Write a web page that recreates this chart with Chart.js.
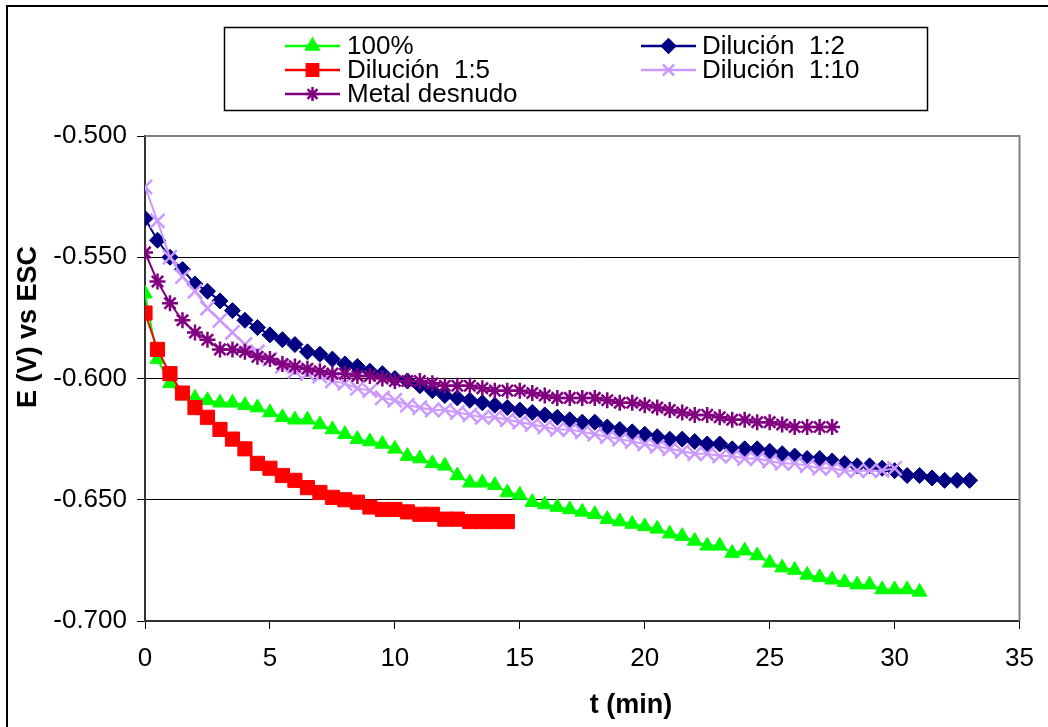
<!DOCTYPE html>
<html>
<head>
<meta charset="utf-8">
<script src="https://cdn.jsdelivr.net/npm/chart.js@4/dist/chart.umd.min.js"></script>
<style>
  html, body { margin: 0; padding: 0; background: #fff; }
  #wrap { width: 1048px; height: 727px; }
</style>
</head>
<body>
<div id="wrap"><canvas id="potChart" width="1048" height="727"></canvas></div>
<script>
// time axis (min), one reading every half minute
var times = [0,0.5,1,1.5,2,2.5,3,3.5,4,4.5,5,5.5,6,6.5,7,7.5,8,8.5,9,9.5,
  10,10.5,11,11.5,12,12.5,13,13.5,14,14.5,15,15.5,16,16.5,17,17.5,18,18.5,19,19.5,
  20,20.5,21,21.5,22,22.5,23,23.5,24,24.5,25,25.5,26,26.5,27,27.5,28,28.5,29,29.5,
  30,30.5,31,31.5,32,32.5,33];

var labels = ["100%", "Dilución  1:2", "Dilución  1:5", "Dilución  1:10", "Metal desnudo"];

var pure100 = [-0.565,-0.592,-0.602,-0.607,-0.608,-0.609,-0.610,-0.610,-0.611,-0.612,
  -0.614,-0.616,-0.617,-0.617,-0.619,-0.621,-0.623,-0.625,-0.626,-0.627,
  -0.629,-0.632,-0.633,-0.635,-0.636,-0.640,-0.643,-0.643,-0.644,-0.647,
  -0.648,-0.651,-0.652,-0.653,-0.654,-0.655,-0.656,-0.658,-0.659,-0.660,
  -0.661,-0.662,-0.664,-0.665,-0.667,-0.669,-0.669,-0.672,-0.671,-0.673,
  -0.676,-0.678,-0.679,-0.681,-0.682,-0.683,-0.684,-0.685,-0.685,-0.687,
  -0.687,-0.687,-0.688];

var dil12 = [-0.534,-0.543,-0.550,-0.555,-0.561,-0.564,-0.568,-0.572,-0.576,-0.579,
  -0.582,-0.584,-0.586,-0.589,-0.590,-0.592,-0.594,-0.595,-0.597,-0.598,
  -0.600,-0.601,-0.603,-0.605,-0.607,-0.608,-0.609,-0.610,-0.611,-0.612,
  -0.613,-0.614,-0.615,-0.616,-0.617,-0.618,-0.618,-0.620,-0.621,-0.622,
  -0.623,-0.624,-0.625,-0.625,-0.626,-0.627,-0.627,-0.629,-0.629,-0.629,
  -0.630,-0.631,-0.632,-0.633,-0.633,-0.634,-0.635,-0.636,-0.636,-0.637,
  -0.638,-0.640,-0.640,-0.641,-0.642,-0.642,-0.642];

var dil15 = [-0.573,-0.588,-0.598,-0.606,-0.612,-0.616,-0.621,-0.625,-0.629,-0.635,
  -0.637,-0.640,-0.642,-0.645,-0.647,-0.649,-0.650,-0.651,-0.653,-0.654,
  -0.654,-0.655,-0.656,-0.656,-0.658,-0.658,-0.659,-0.659,-0.659,-0.659];

var dil110 = [-0.521,-0.535,-0.550,-0.558,-0.564,-0.571,-0.576,-0.581,-0.586,-0.589,
  -0.592,-0.595,-0.597,-0.598,-0.599,-0.601,-0.602,-0.604,-0.605,-0.608,
  -0.609,-0.611,-0.612,-0.613,-0.613,-0.614,-0.615,-0.616,-0.616,-0.617,
  -0.618,-0.619,-0.620,-0.621,-0.621,-0.622,-0.623,-0.624,-0.625,-0.626,
  -0.627,-0.628,-0.629,-0.630,-0.631,-0.631,-0.632,-0.632,-0.633,-0.633,
  -0.634,-0.635,-0.635,-0.636,-0.637,-0.637,-0.638,-0.638,-0.638,-0.638,
  -0.637];

var metal = [-0.548,-0.560,-0.569,-0.576,-0.581,-0.584,-0.588,-0.588,-0.589,-0.591,
  -0.592,-0.594,-0.595,-0.596,-0.597,-0.598,-0.598,-0.599,-0.599,-0.600,
  -0.601,-0.601,-0.601,-0.602,-0.603,-0.603,-0.603,-0.604,-0.605,-0.605,
  -0.605,-0.606,-0.607,-0.608,-0.608,-0.608,-0.608,-0.609,-0.610,-0.610,
  -0.611,-0.612,-0.613,-0.614,-0.615,-0.615,-0.616,-0.617,-0.617,-0.618,
  -0.618,-0.619,-0.620,-0.620,-0.620,-0.620];

var yTicks = [-0.700, -0.650, -0.600, -0.550, -0.500];
var xTicks = [0, 5, 10, 15, 20, 25, 30, 35];

var FONT = "'Liberation Sans', Arial, sans-serif";

function pairs(vals){
  var out = [];
  for (var i = 0; i < vals.length; i++) {
    out.push({x: times[i], y: vals[i]});
  }
  return out;
}

// series looks: colour, marker, marker radius
var looks = [
  {color: "#00ff00", style: "triangle", r: 8.5, legendR: 7},
  {color: "#000080", style: "rectRot", r: 8, legendR: 6.5},
  {color: "#ff0000", style: "rect", r: 10, legendR: 8},
  {color: "#cc99ff", style: "crossRot", r: 10, legendR: 8},
  {color: "#800080", style: "star", r: 8, legendR: 7}
];
var seriesVals = [pure100, dil12, dil15, dil110, metal];

var datasets = [];
for (var s = 0; s < seriesVals.length; s++) {
  var lk = looks[s];
  datasets.push({
    label: labels[s],
    data: pairs(seriesVals[s]),
    borderColor: lk.color,
    backgroundColor: lk.color,
    borderWidth: 2,
    pointStyle: lk.style,
    pointRadius: lk.r,
    pointBorderWidth: (lk.style == "crossRot" || lk.style == "star") ? 2.5 : 1,
    pointBorderColor: lk.color,
    pointBackgroundColor: lk.color,
    tension: 0,
    order: 5 - s
  });
}

// legend box like the spreadsheet one, two columns
var legendBox = {
  id: "legendBox",
  afterDraw: function(chart){
    var ctx = chart.ctx;
    ctx.save();
    ctx.strokeStyle = "#000";
    ctx.lineWidth = 1.5;
    ctx.strokeRect(224.5, 27.5, 703, 83);

    var cols = [{x1: 285, x2: 340, tx: 347}, {x1: 641, x2: 696, tx: 702}];
    var rows = [46, 70, 94];
    var place = [[0,0],[1,0],[0,1],[1,1],[0,2]];
    ctx.font = "26px " + FONT;
    ctx.textBaseline = "middle";
    ctx.textAlign = "left";
    for (var i = 0; i < labels.length; i++) {
      var c = cols[place[i][0]], y = rows[place[i][1]], lk = looks[i];
      ctx.strokeStyle = lk.color;
      ctx.fillStyle = lk.color;
      ctx.lineWidth = 2.5;
      ctx.beginPath();
      ctx.moveTo(c.x1, y);
      ctx.lineTo(c.x2, y);
      ctx.stroke();
      ctx.lineWidth = 2.5;
      Chart.helpers.drawPoint(ctx, {pointStyle: lk.style, radius: lk.legendR, borderWidth: 2.5, rotation: 0}, (c.x1 + c.x2) / 2, y);
      ctx.fillStyle = "#000";
      ctx.fillText(labels[i], c.tx, y + 1);
    }
    ctx.restore();
  }
};

// outer frame, plot frame and axis titles
var frames = {
  id: "frames",
  beforeDatasetsDraw: function(chart){
    var a = chart.chartArea, ctx = chart.ctx;
    ctx.save();
    ctx.strokeStyle = "#808080";
    ctx.lineWidth = 2;
    ctx.beginPath();
    ctx.moveTo(a.left, a.top);
    ctx.lineTo(a.right, a.top);
    ctx.lineTo(a.right, a.bottom);
    ctx.stroke();
    ctx.restore();
  },
  afterDraw: function(chart){
    var ctx = chart.ctx;
    ctx.save();
    ctx.strokeStyle = "#000";
    ctx.lineWidth = 2;
    ctx.strokeRect(7, 6, 1100, 800);

    ctx.fillStyle = "#000";
    ctx.font = "bold 27px " + FONT;
    ctx.textAlign = "center";
    ctx.textBaseline = "middle";
    ctx.fillText("t (min)", 631, 706);

    ctx.translate(29, 327);
    ctx.rotate(-Math.PI / 2);
    ctx.fillText("E (V) vs ESC", 0, 0);
    ctx.restore();
  }
};

new Chart(document.getElementById("potChart"), {
  type: "line",
  data: { datasets: datasets },
  plugins: [frames, legendBox],
  options: {
    responsive: false,
    animation: false,
    layout: { padding: { top: 136, right: 17, left: 0, bottom: 0 } },
    plugins: {
      legend: { display: false },
      tooltip: { enabled: false }
    },
    scales: {
      x: {
        type: "linear",
        min: 0,
        max: 35,
        afterFit: function(sc){ sc.height = 106; },
        afterBuildTicks: function(sc){ sc.ticks = xTicks.map(function(v){ return {value: v}; }); },
        ticks: { color: "#000", font: { family: FONT, size: 26 }, padding: 14, maxRotation: 0,
          callback: function(v){ return String(v); } },
        grid: { drawOnChartArea: false, drawTicks: true, tickLength: 8, tickColor: "#000", tickWidth: 1 },
        border: { color: "#333", width: 2 }
      },
      y: {
        min: -0.7,
        max: -0.5,
        afterFit: function(sc){ sc.width = 145; },
        afterBuildTicks: function(sc){ sc.ticks = yTicks.map(function(v){ return {value: v}; }); },
        ticks: { color: "#000", font: { family: FONT, size: 26 }, padding: 10,
          callback: function(v){ return v.toFixed(3); } },
        grid: {
          color: function(c){ return (c.tick && c.tick.value > -0.501) ? "#808080" : "#000"; },
          lineWidth: 1,
          tickLength: 8,
          tickColor: "#000"
        },
        border: { color: "#333", width: 2 }
      }
    }
  }
});
</script>
</body>
</html>
